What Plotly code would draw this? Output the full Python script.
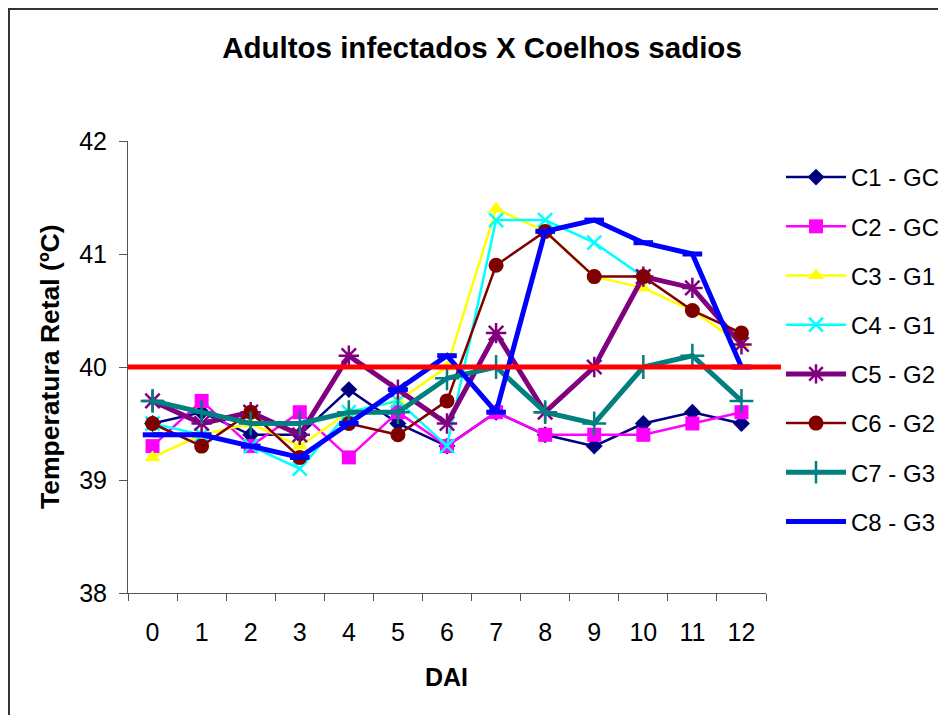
import plotly.graph_objects as go

days = [str(d) for d in range(13)]

c1_gc = [39.5, 39.6, 39.4, 39.4, 39.8, 39.5, 39.3, 39.6, 39.4, 39.3, 39.5, 39.6, 39.5]
c2_gc = [39.3, 39.7, 39.3, 39.6, 39.2, 39.6, 39.3, 39.6, 39.4, 39.4, 39.4, 39.5, 39.6]
c3_g1 = [39.2, 39.4, 39.5, 39.3, 39.6, 39.7, 40.0, 41.4, 41.2, 40.8, 40.7, 40.5, 40.2]
c4_g1 = [39.5, 39.4, 39.3, 39.1, 39.6, 39.7, 39.3, 41.3, 41.3, 41.1, 40.8, None, None]
c5_g2 = [39.7, 39.5, 39.6, 39.4, 40.1, 39.8, 39.5, 40.3, 39.6, 40.0, 40.8, 40.7, 40.2]
c6_g2 = [39.5, 39.3, 39.6, 39.2, 39.5, 39.4, 39.7, 40.9, 41.2, 40.8, 40.8, 40.5, 40.3]
c7_g3 = [39.7, 39.6, 39.5, 39.5, 39.6, 39.6, 39.9, 40.0, 39.6, 39.5, 40.0, 40.1, 39.7]
c8_g3 = [39.4, 39.4, 39.3, 39.2, 39.5, 39.8, 40.1, 39.6, 41.2, 41.3, 41.1, 41.0, 40.0]

threshold = 40.0
y_ticks = [38, 39, 40, 41, 42]

series = [
    ("C1 - GC", c1_gc, "#000080", 2.5, "diamond", 13, 0),
    ("C2 - GC", c2_gc, "#FF00FF", 2.5, "square", 14, 0),
    ("C3 - G1", c3_g1, "#FFFF00", 2.5, "triangle-up", 14, 0),
    ("C4 - G1", c4_g1, "#00FFFF", 2.5, "x-thin-open", 14, 2.5),
    ("C5 - G2", c5_g2, "#800080", 5, "asterisk-open", 17, 2.5),
    ("C6 - G2", c6_g2, "#800000", 2.5, "circle", 15, 0),
    ("C7 - G3", c7_g3, "#008080", 5, "cross-thin-open", 17, 2.5),
    ("C8 - G3", c8_g3, "#0000FF", 5, "line-ew-open", 14, 5),
]

FONT = "Arial, Liberation Sans, sans-serif"

fig = go.Figure()
for i, (name, vals, color, lw, sym, msize, mlw) in enumerate(series):
    fig.add_trace(go.Scatter(
        x=days, y=vals, name=name, mode="lines+markers",
        line=dict(color=color, width=lw),
        marker=dict(symbol=sym, size=msize, color=color,
                    line=dict(color=color, width=mlw)),
        legendgroup=f"g{i}",
        connectgaps=False,
    ))

# figure pixel coordinates (page has an 8px body margin)
OFF = 8
L, R, T, B = 128 - OFF, 766 - OFF, 141 - OFF, 593 - OFF
W, H = 1000, 715

def px_x(p):
    return (p - OFF - L) / (R - L)

def px_y(p):
    return (B - (p - OFF)) / (B - T)

fig.add_shape(type="line", xref="paper", yref="y",
              x0=0, x1=px_x(785), y0=threshold, y1=threshold,
              line=dict(color="#FF0000", width=5), layer="above")

# outer chart border
fig.add_shape(type="rect", xref="paper", yref="paper",
              x0=px_x(9), x1=px_x(1100), y0=px_y(9), y1=px_y(800),
              line=dict(color="#333333", width=2), layer="below")

fig.add_annotation(text="<b>Temperatura Retal (ºC)</b>", xref="paper", yref="paper",
                   x=px_x(50), y=px_y(367), textangle=-90, showarrow=False,
                   font=dict(family=FONT, size=26.5, color="black"),
                   xanchor="center", yanchor="middle")
fig.add_annotation(text="<b>DAI</b>", xref="paper", yref="paper",
                   x=px_x(446), y=px_y(677), showarrow=False,
                   font=dict(family=FONT, size=25, color="black"),
                   xanchor="center", yanchor="middle")

fig.update_layout(
    width=W, height=H,
    margin=dict(l=L, r=W - R, t=T, b=H - B),
    paper_bgcolor="white", plot_bgcolor="white",
    title=dict(text="<b>Adultos infectados X Coelhos sadios</b>",
               xref="paper", x=px_x(482), xanchor="center",
               y=1 - (48 - OFF) / H, yanchor="middle",
               font=dict(family=FONT, size=29.5, color="black")),
    font=dict(family=FONT, size=25, color="black"),
    showlegend=True,
    legend=dict(x=px_x(781), xanchor="left", y=px_y(155), yanchor="top",
                font=dict(family=FONT, size=24, color="black"),
                bgcolor="white", borderwidth=0, tracegroupgap=15,
                itemwidth=60, itemsizing="trace"),
    xaxis=dict(type="category", range=[-0.5, 12.5], tickson="boundaries",
               ticks="outside", ticklen=7, tickcolor="#555555",
               showline=True, linecolor="#555555", linewidth=1,
               showgrid=False, zeroline=False, ticklabelstandoff=17,
               tickfont=dict(family=FONT, size=25, color="black")),
    yaxis=dict(range=[38, 42], tickvals=y_ticks, ticks="outside", ticklen=8,
               tickcolor="#555555", showline=True, linecolor="#555555",
               linewidth=1, showgrid=False, zeroline=False,
               ticklabelstandoff=7,
               tickfont=dict(family=FONT, size=25, color="black")),
)

fig.write_html("out.html")
